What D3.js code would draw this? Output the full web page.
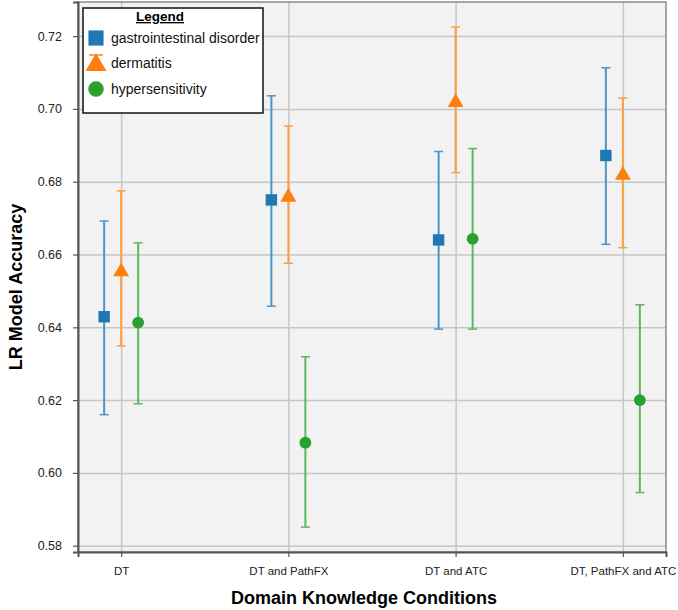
<!DOCTYPE html>
<html>
<head>
<meta charset="utf-8">
<script src="https://cdn.jsdelivr.net/npm/d3@7"></script>
<style>
  body { margin: 0; background: #fff; }
  text { font-family: "Liberation Sans", Arial, Helvetica, sans-serif; }
</style>
</head>
<body>
<div id="chart"></div>
<script>
var conditions = ["DT", "DT and PathFX", "DT and ATC", "DT, PathFX and ATC"]
var seriesNames = ["gastrointestinal disorder", "dermatitis", "hypersensitivity"]
var yTicks = [0.58, 0.60, 0.62, 0.64, 0.66, 0.68, 0.70, 0.72]

// mean, lower, upper per condition
var giMean  = [0.6429, 0.6750, 0.6640, 0.6872]
var giLow   = [0.6160, 0.6458, 0.6395, 0.6628]
var giHigh  = [0.6692, 0.7036, 0.6883, 0.7113]

var derMean = [0.6557, 0.6762, 0.7022, 0.6822]
var derLow  = [0.6349, 0.6576, 0.6825, 0.6619]
var derHigh = [0.6775, 0.6953, 0.7225, 0.7030]

var hypMean = [0.6413, 0.6083, 0.6643, 0.6200]
var hypLow  = [0.6190, 0.5851, 0.6395, 0.5946]
var hypHigh = [0.6632, 0.6319, 0.6891, 0.6462]

var config = { width: 678, height: 610 }
var margin = { left: 78, right: 12, top: 2, bottom: 58 }
var width = config.width - margin.left - margin.right,
    height = config.height - margin.top - margin.bottom

var colors = ["#1f77b4", "#ff7f0e", "#2ca02c"]
var barColors = ["#4d94c8", "#ff9d45", "#5cb85c"]
var shapes = [d3.symbolSquare, d3.symbolTriangle, d3.symbolCircle]

var series = [
    { name: seriesNames[0], mean: giMean, low: giLow, high: giHigh },
    { name: seriesNames[1], mean: derMean, low: derLow, high: derHigh },
    { name: seriesNames[2], mean: hypMean, low: hypLow, high: hypHigh }
]

var svg = d3.select("#chart").append("svg")
    .attr("width", config.width)
    .attr("height", config.height)

var chart = svg.append("g")
    .attr("transform", "translate(" + margin.left + "," + margin.top + ")")

var x = d3.scalePoint()
    .domain(conditions)
    .range([0, width])
    .padding(0.258)

var offset = d3.scalePoint()
    .domain(seriesNames)
    .range([-17, 17])

var y = d3.scaleLinear()
    .domain([0.57827, 0.72937])
    .range([height, 0])

// plot background
chart.append("rect")
    .attr("width", width)
    .attr("height", height)
    .attr("fill", "#f2f2f2")

// grid lines
chart.append("g")
    .attr("class", "grid")
    .call(d3.axisLeft(y).tickValues(yTicks).tickSize(-width).tickFormat(""))
    .call(g => g.select(".domain").remove())
    .call(g => g.selectAll("line").attr("stroke", "#c6c6c6").attr("stroke-width", 1.5))

chart.append("g")
    .attr("class", "grid")
    .call(d3.axisTop(x).tickSize(-height).tickFormat(""))
    .call(g => g.select(".domain").remove())
    .call(g => g.selectAll("line").attr("stroke", "#c6c6c6").attr("stroke-width", 1.5))

// frame
chart.append("rect")
    .attr("width", width)
    .attr("height", height)
    .attr("fill", "none")
    .attr("stroke", "#8a8a8a")
    .attr("stroke-width", 1.5)

// axes
var yAxis = chart.append("g")
    .call(d3.axisLeft(y).tickValues(yTicks).tickSize(5).tickPadding(11).tickFormat(d3.format(".2f")))
yAxis.select(".domain").attr("stroke", "#555").attr("stroke-width", 2)
yAxis.selectAll("line").attr("stroke", "#555").attr("stroke-width", 1.2)
yAxis.selectAll("text").attr("font-size", "12.5px").attr("fill", "#222")

var xAxis = chart.append("g")
    .attr("transform", "translate(0," + height + ")")
    .call(d3.axisBottom(x).tickSize(5).tickPadding(10))
xAxis.select(".domain").attr("stroke", "#555").attr("stroke-width", 2)
xAxis.selectAll("line").attr("stroke", "#555").attr("stroke-width", 1.2)
xAxis.selectAll("text").attr("font-size", "11.5px").attr("fill", "#222")

// error bars and markers
series.forEach(function(s, i){
    var g = chart.append("g").attr("class", "series-" + i)
    var pts = conditions.map(function(c, j){
        return { cond: c, mean: s.mean[j], low: s.low[j], high: s.high[j] }
    })
    var cx = d => x(d.cond) + offset(s.name)

    g.selectAll(".err")
        .data(pts)
        .enter().append("line")
        .attr("x1", cx).attr("x2", cx)
        .attr("y1", d => y(d.low)).attr("y2", d => y(d.high))
        .attr("stroke", barColors[i])
        .attr("stroke-width", 2)

    g.selectAll(".cap-top")
        .data(pts)
        .enter().append("line")
        .attr("x1", d => cx(d) - 4.5).attr("x2", d => cx(d) + 4.5)
        .attr("y1", d => y(d.high)).attr("y2", d => y(d.high))
        .attr("stroke", barColors[i])
        .attr("stroke-width", 1.5)

    g.selectAll(".cap-bottom")
        .data(pts)
        .enter().append("line")
        .attr("x1", d => cx(d) - 4.5).attr("x2", d => cx(d) + 4.5)
        .attr("y1", d => y(d.low)).attr("y2", d => y(d.low))
        .attr("stroke", barColors[i])
        .attr("stroke-width", 1.5)

    var size = i == 0 ? 130 : (i == 1 ? 110 : 110)
    g.selectAll(".marker")
        .data(pts)
        .enter().append("path")
        .attr("d", d3.symbol().type(shapes[i]).size(size))
        .attr("transform", d => "translate(" + cx(d) + "," + (y(d.mean) + (i == 1 ? 1.5 : 0)) + ")")
        .attr("fill", colors[i])
})

// axis titles
svg.append("text")
    .attr("transform", "translate(22," + (margin.top + 285) + ") rotate(-90)")
    .attr("text-anchor", "middle")
    .attr("font-size", "18px")
    .attr("font-weight", "bold")
    .attr("fill", "#000")
    .text("LR Model Accuracy")

svg.append("text")
    .attr("x", 364)
    .attr("y", 604)
    .attr("text-anchor", "middle")
    .attr("font-size", "18px")
    .attr("font-weight", "bold")
    .attr("fill", "#000")
    .text("Domain Knowledge Conditions")

// legend
var legend = svg.append("g")
    .attr("transform", "translate(83,8)")

legend.append("rect")
    .attr("width", 180)
    .attr("height", 105)
    .attr("fill", "#fff")
    .attr("stroke", "#111")
    .attr("stroke-width", 1.5)

legend.append("text")
    .attr("x", 77)
    .attr("y", 13)
    .attr("text-anchor", "middle")
    .attr("font-size", "13.5px")
    .attr("font-weight", "bold")
    .attr("text-decoration", "underline")
    .text("Legend")

var items = legend.selectAll(".item")
    .data(seriesNames)
    .enter().append("g")
    .attr("class", "item")
    .attr("transform", (d, i) => "translate(13," + [30, 55, 81][i] + ")")

items.append("path")
    .attr("d", (d, i) => d3.symbol().type(shapes[i]).size(i == 0 ? 230 : 190)())
    .attr("transform", (d, i) => "translate(0," + (i == 1 ? 2 : 0) + ")")
    .attr("fill", (d, i) => colors[i])

items.filter((d, i) => i == 1).append("line")
    .attr("x1", -7).attr("x2", 7)
    .attr("y1", -8).attr("y2", -8)
    .attr("stroke", colors[1])
    .attr("stroke-width", 1.5)

items.append("text")
    .attr("x", 15)
    .attr("dy", "0.35em")
    .attr("font-size", "14px")
    .attr("fill", "#111")
    .text(d => d)
</script>
</body>
</html>
